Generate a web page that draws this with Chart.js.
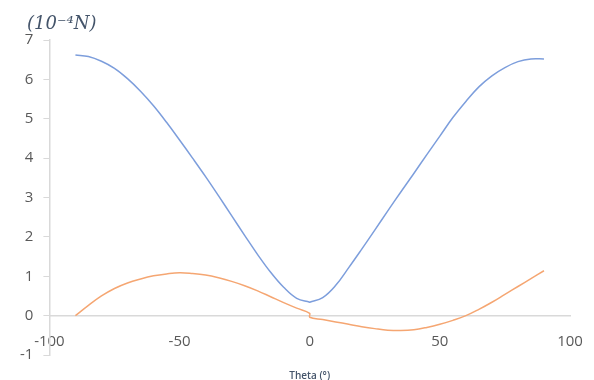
<!DOCTYPE html>
<html>
<head>
<meta charset="utf-8">
<script src="https://cdn.jsdelivr.net/npm/chart.js@4/dist/chart.umd.min.js"></script>
<style>
  html, body { margin: 0; padding: 0; background: #fff; }
  #wrap { width: 594px; height: 380px; }
</style>
</head>
<body>
<div id="wrap"><canvas id="c" width="594" height="380"></canvas></div>
<script>
const theta = [-90,-85,-80,-75,-70,-65,-60,-55,-50,-45,-40,-35,-30,-25,-20,-15,-10,-5,0,0,5,10,15,20,25,30,35,40,45,50,55,60,65,70,75,80,85,90];
const blueValues = [6.62,6.58,6.46,6.28,6.02,5.70,5.33,4.91,4.46,4.00,3.53,3.04,2.54,2.04,1.55,1.10,0.72,0.44,0.34,0.34,0.46,0.77,1.22,1.69,2.17,2.66,3.14,3.61,4.09,4.56,5.03,5.44,5.81,6.09,6.30,6.45,6.52,6.52];
const orangeValues = [0,0.26,0.50,0.69,0.83,0.93,1.01,1.06,1.09,1.07,1.03,0.96,0.87,0.76,0.63,0.48,0.33,0.19,0.06,-0.04,-0.10,-0.16,-0.22,-0.28,-0.33,-0.37,-0.38,-0.36,-0.30,-0.22,-0.12,0.0,0.16,0.34,0.54,0.74,0.94,1.14];
const xTicks = [-100,-50,0,50,100];
const yTicks = [-1,0,1,2,3,4,5,6,7];
const unitLabel = '(10\u207B\u2074N)';
const xLabel = 'Theta (\u00B0)';

const pts = vals => theta.map((t, i) => ({x: t, y: vals[i]}));
const axisColor = '#D9D9D9';
const tickFont = {family: "'Open Sans', 'Noto Sans', sans-serif", size: 15};

const unitLabelPlugin = {
  id: 'unitLabel',
  afterDraw(chart) {
    const ctx = chart.ctx;
    ctx.save();
    ctx.fillStyle = '#44546A';
    ctx.font = "italic 18px 'DejaVu Serif', 'Liberation Serif', serif";
    ctx.textBaseline = 'middle';
    ctx.textAlign = 'left';
    ctx.fillText(unitLabel, 27, 24);
    ctx.restore();
  }
};

new Chart(document.getElementById('c'), {
  type: 'scatter',
  data: {
    datasets: [
      {data: pts(blueValues), showLine: true, borderColor: '#7D9EDC', borderWidth: 1.5, pointRadius: 0, tension: 0.4, fill: false},
      {data: pts(orangeValues), showLine: true, borderColor: '#F5A672', borderWidth: 1.5, pointRadius: 0, tension: 0.4, fill: false}
    ]
  },
  options: {
    responsive: false,
    animation: false,
    layout: {padding: {left: 10, right: 24, top: 40, bottom: 25}},
    plugins: {
      legend: {display: false},
      tooltip: {enabled: false},
      title: {display: false}
    },
    scales: {
      x: {
        type: 'linear', min: -100, max: 100,
        position: {y: 0},
        afterBuildTicks: s => { s.ticks = xTicks.map(v => ({value: v})); },
        afterFit: s => { s.paddingRight = 0; },
        ticks: {color: '#595959', font: tickFont, padding: 17, maxRotation: 0},
        grid: {drawOnChartArea: false, drawTicks: false},
        border: {display: true, color: axisColor, width: 1.5},
        title: {display: true, text: xLabel, color: '#44546A', font: {family: "'Open Sans', 'Noto Sans', sans-serif", size: 10, weight: '600'}, padding: {top: 3, bottom: 0}}
      },
      y: {
        type: 'linear', min: -1, max: 7,
        afterBuildTicks: s => { s.ticks = yTicks.map(v => ({value: v})); },
        ticks: {color: '#595959', font: tickFont, padding: 10},
        grid: {drawOnChartArea: false, drawTicks: true, tickLength: 6, color: axisColor},
        border: {display: true, color: axisColor, width: 1.5}
      }
    }
  },
  plugins: [unitLabelPlugin]
});
</script>
</body>
</html>
